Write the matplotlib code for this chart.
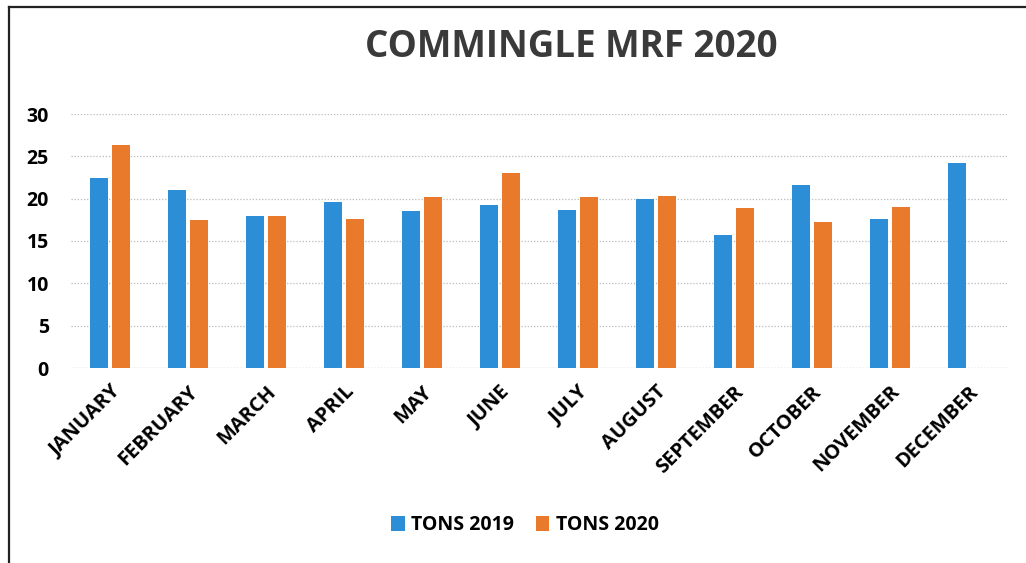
import numpy as np
import matplotlib
matplotlib.use('Agg')
import matplotlib.pyplot as plt
from matplotlib.lines import Line2D

months = ['JANUARY', 'FEBRUARY', 'MARCH', 'APRIL', 'MAY', 'JUNE', 'JULY',
          'AUGUST', 'SEPTEMBER', 'OCTOBER', 'NOVEMBER', 'DECEMBER']
tons_2019 = [22.5, 21.0, 18.0, 19.6, 18.6, 19.2, 18.7, 20.0, 15.7, 21.6, 17.6, 24.2]
tons_2020 = [26.3, 17.5, 18.0, 17.6, 20.2, 23.0, 20.2, 20.3, 18.9, 17.2, 19.0, np.nan]
yticks = [0, 5, 10, 15, 20, 25, 30]

blue = '#2C8ED6'
orange = '#E97A2C'

plt.rcParams['font.family'] = ['Open Sans', 'DejaVu Sans']

W, H = 1026, 563
fig = plt.figure(figsize=(W / 100, H / 100), dpi=100)
# chart border (left and top edges only, the rest is cut off in the scan)
fig.add_artist(Line2D([9 / W, 9 / W], [0, 1 - 7 / H], color='#222222', linewidth=1.6))
fig.add_artist(Line2D([9 / W, 1], [1 - 7 / H, 1 - 7 / H], color='#222222', linewidth=1.6))

ax = fig.add_axes([71 / W, (H - 368) / H, (1007 - 71) / W, (368 - 114) / H])
x = np.arange(len(months))
w = 0.225
ax.bar(x - 0.14, tons_2019, w, color=blue, label='TONS 2019', zorder=3)
ax.bar(x + 0.14, tons_2020, w, color=orange, label='TONS 2020', zorder=3)

ax.set_xlim(-0.5, len(months) - 0.5)
ax.set_ylim(0, 30)
ax.set_yticks(yticks)
ax.set_yticklabels([str(v) for v in yticks], fontsize=14, fontweight='bold')
ax.yaxis.grid(True, linestyle=(0, (1, 1.5)), color='#bbbbbb', linewidth=0.9, zorder=0)
ax.axhline(0, linestyle=(0, (1, 1.5)), color='#bbbbbb', linewidth=0.9, zorder=1)
ax.tick_params(axis='y', length=0, pad=16)
ax.tick_params(axis='x', length=0, pad=10)
ax.set_xticks(x)
ax.set_xticklabels(months, rotation=45, ha='right', rotation_mode='anchor',
                   fontsize=14.5, fontweight='bold')
for s in ax.spines.values():
    s.set_visible(False)

fig.text(571 / W, 1 - 47 / H, 'COMMINGLE MRF 2020', ha='center', va='center',
         fontsize=26.5, fontweight='bold', color='#3a3a3a')

fig.legend(loc='center', bbox_to_anchor=(525 / W, 1 - 525 / H), ncol=2, frameon=False,
           prop={'weight': 'bold', 'size': 14}, handlelength=0.7, handleheight=0.85,
           handletextpad=0.35, columnspacing=1.1)

fig.savefig('out.png', dpi=100)
